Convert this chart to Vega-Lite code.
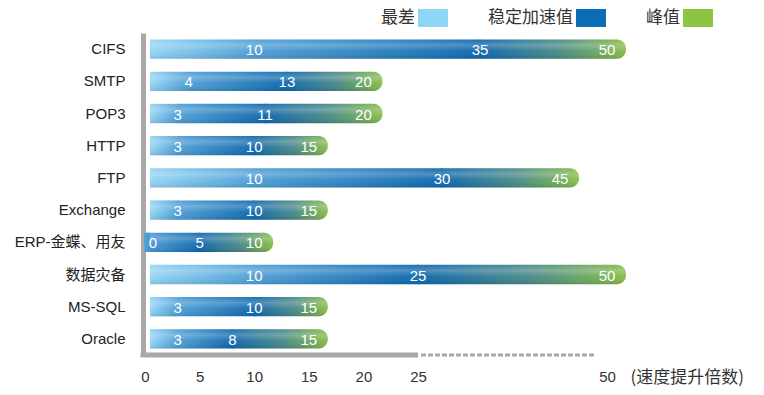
{
  "$schema": "https://vega.github.io/schema/vega-lite/v6.json",
  "width": 600,
  "height": 322,
  "autosize": "none",
  "padding": {"left": 145, "top": 33, "right": 19, "bottom": 40},
  "background": "white",
  "config": {
    "view": {"stroke": null},
    "font": "'Liberation Sans', Arial, 'Noto Sans CJK SC', sans-serif"
  },
  "datasets": {
    "speed": [
      {"name": "CIFS", "worst": 10, "stable": 35, "peak": 50},
      {"name": "SMTP", "worst": 4, "stable": 13, "peak": 20},
      {"name": "POP3", "worst": 3, "stable": 11, "peak": 20},
      {"name": "HTTP", "worst": 3, "stable": 10, "peak": 15},
      {"name": "FTP", "worst": 10, "stable": 30, "peak": 45},
      {"name": "Exchange", "worst": 3, "stable": 10, "peak": 15},
      {"name": "ERP-金蝶、用友", "worst": 0, "stable": 5, "peak": 10},
      {"name": "数据灾备", "worst": 10, "stable": 25, "peak": 50},
      {"name": "MS-SQL", "worst": 3, "stable": 10, "peak": 15},
      {"name": "Oracle", "worst": 3, "stable": 8, "peak": 15}
    ],
    "axisline": [{"from": 0, "to": 25}],
    "axisdash": [{"from": 25, "to": 48.7}],
    "legend": [{"k": "最差"}, {"k": "稳定加速值"}, {"k": "峰值"}]
  },
  "data": {"name": "speed"},
  "layer": [
    {
      "mark": {
        "type": "bar",
        "x2Offset": 5,
        "fill": {"gradient": "linear", "x1": 0, "y1": 0, "x2": 1, "y2": 0,
          "stops": [{"offset": 0, "color": "#92d5f5"}, {"offset": 1, "color": "#4f9fd6"}]}
      },
      "encoding": {
        "y": {"field": "name", "type": "nominal", "sort": null,
          "scale": {"paddingInner": 0.4, "paddingOuter": 0.2},
          "axis": {"title": null, "domain": true, "domainColor": "#a8a8aa", "domainWidth": 5,
            "ticks": false, "grid": false, "offset": 2, "labelFontSize": 15, "labelColor": "#222",
            "labelPadding": 18, "labelFont": "'Liberation Sans', Arial, 'Noto Sans CJK SC'"}},
        "x": {"field": "worst", "type": "quantitative",
          "scale": {"domain": [0, 25, 30, 35, 45, 50], "range": [0, 273, 297, 335, 415, 462], "nice": false, "zero": false},
          "axis": {"values": [0, 5, 10, 15, 20, 25, 50], "domain": false, "ticks": false, "grid": false,
            "labelFontSize": 15, "labelColor": "#333", "labelPadding": 14, "labelFlush": false,
            "labelOverlap": false, "labelFont": "'Liberation Sans Narrow', 'Liberation Sans', Arial",
            "title": "(速度提升倍数)", "titleX": 485, "titleY": 22, "titleAlign": "left",
            "titleBaseline": "middle", "titleFontSize": 17, "titleFontWeight": "normal",
            "titleColor": "#333", "titleFont": "'Noto Sans CJK SC'"}},
        "x2": {"datum": 0}
      }
    },
    {
      "mark": {
        "type": "bar",
        "xOffset": -0.7,
        "x2Offset": 0.7,
        "fill": {"gradient": "linear", "x1": 0, "y1": 0, "x2": 1, "y2": 0,
          "stops": [{"offset": 0, "color": "#4f9fd6"}, {"offset": 1, "color": "#0f68ad"}]}
      },
      "encoding": {
        "y": {"field": "name", "type": "nominal", "sort": null},
        "x": {"field": "worst", "type": "quantitative"},
        "x2": {"field": "stable"}
      }
    },
    {
      "mark": {
        "type": "bar",
        "xOffset": -0.7,
        "x2Offset": 19,
        "cornerRadiusTopRight": 9,
        "cornerRadiusBottomRight": 9,
        "fill": {"gradient": "linear", "x1": 0, "y1": 0, "x2": 1, "y2": 0,
          "stops": [{"offset": 0, "color": "#0f68ad"}, {"offset": 0.55, "color": "#4b8a86"}, {"offset": 1, "color": "#86bd47"}]}
      },
      "encoding": {
        "y": {"field": "name", "type": "nominal", "sort": null},
        "x": {"field": "stable", "type": "quantitative"},
        "x2": {"field": "peak"}
      }
    },
    {
      "mark": {
        "type": "bar",
        "xOffset": 19,
        "x2Offset": 5,
        "cornerRadiusTopRight": 9,
        "cornerRadiusBottomRight": 9,
        "fill": {"gradient": "linear", "x1": 0, "y1": 0, "x2": 0, "y2": 1,
          "stops": [
            {"offset": 0, "color": "rgba(255,255,255,0.05)"},
            {"offset": 0.3, "color": "rgba(255,255,255,0.25)"},
            {"offset": 0.6, "color": "rgba(255,255,255,0.04)"},
            {"offset": 1, "color": "rgba(0,0,0,0.1)"}]}
      },
      "encoding": {
        "y": {"field": "name", "type": "nominal", "sort": null},
        "x": {"field": "peak", "type": "quantitative"},
        "x2": {"datum": 0}
      }
    },
    {
      "mark": {"type": "text", "color": "white", "fontSize": 15, "font": "'Liberation Sans Narrow', 'Liberation Sans', Arial",
        "align": "center", "dx": {"expr": "datum.worst == 0 ? 8 : 0"}, "baseline": "middle", "dy": 1},
      "encoding": {
        "y": {"field": "name", "type": "nominal", "sort": null},
        "x": {"field": "worst", "type": "quantitative"},
        "text": {"field": "worst", "type": "quantitative"}
      }
    },
    {
      "mark": {"type": "text", "color": "white", "fontSize": 15, "font": "'Liberation Sans Narrow', 'Liberation Sans', Arial", "align": "center", "baseline": "middle", "dy": 1},
      "encoding": {
        "y": {"field": "name", "type": "nominal", "sort": null},
        "x": {"field": "stable", "type": "quantitative"},
        "text": {"field": "stable", "type": "quantitative"}
      }
    },
    {
      "mark": {"type": "text", "color": "white", "fontSize": 15, "font": "'Liberation Sans Narrow', 'Liberation Sans', Arial", "align": "center", "baseline": "middle", "dy": 1},
      "encoding": {
        "y": {"field": "name", "type": "nominal", "sort": null},
        "x": {"field": "peak", "type": "quantitative"},
        "text": {"field": "peak", "type": "quantitative"}
      }
    },
    {
      "data": {"name": "axisline"},
      "mark": {"type": "rule", "y": "height", "xOffset": -4.5, "strokeWidth": 5, "color": "#a8a8aa"},
      "encoding": {
        "x": {"field": "from", "type": "quantitative"},
        "x2": {"field": "to"}
      }
    },
    {
      "data": {"name": "axisdash"},
      "mark": {"type": "rule", "y": "height", "xOffset": 3, "strokeWidth": 3, "strokeDash": [5, 2], "color": "#a8a8aa"},
      "encoding": {
        "x": {"field": "from", "type": "quantitative"},
        "x2": {"field": "to"}
      }
    },
    {
      "data": {"name": "legend"},
      "mark": {"type": "point", "opacity": 0, "filled": true},
      "encoding": {
        "fill": {"field": "k", "type": "nominal",
          "scale": {"domain": ["最差", "稳定加速值", "峰值"], "range": ["#8fd6f6", "#0b6db5", "#8cc541"]},
          "legend": {"orient": "none", "legendX": 273, "legendY": -30, "direction": "horizontal",
            "title": null, "symbolType": "M-1,-0.6H1V0.6H-1Z", "symbolSize": 900, "symbolOpacity": 1,
            "symbolStrokeWidth": 0, "labelAlign": "right", "labelOffset": -33, "labelFontSize": 17,
            "labelFont": "'Noto Sans CJK SC'", "labelColor": "#333", "columnPadding": 40, "labelLimit": 200}}
      }
    }
  ]
}
